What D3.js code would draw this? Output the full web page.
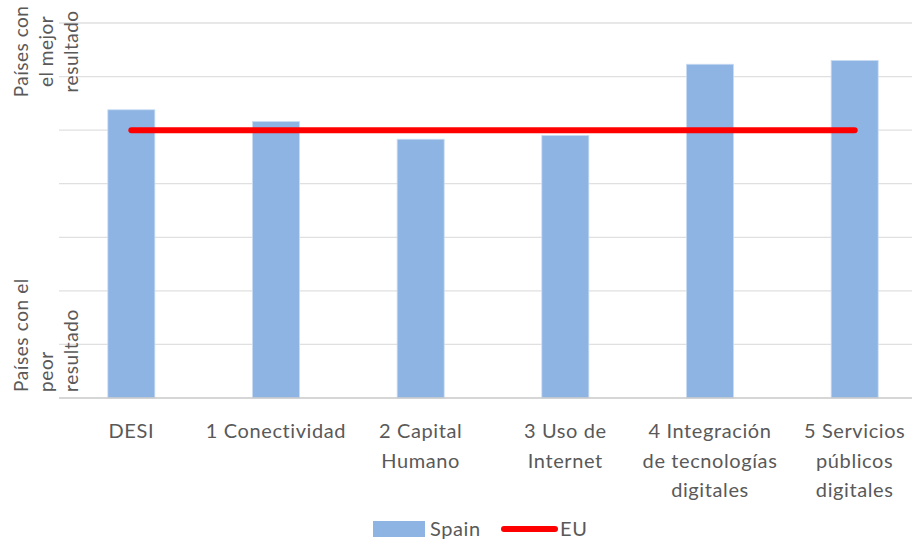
<!DOCTYPE html>
<html lang="es">
    <head>
        <meta charset="utf-8">
        <title>DESI Spain vs EU</title>
        <script src="https://d3js.org/d3.v7.min.js"></script>
        <style>
            body { margin: 0; background: #fff; }
            svg#chart text { font-family: Lato, "Open Sans", sans-serif; fill: #595959; }
        </style>
    </head>
    <body>
        <svg id="chart" width="916" height="542"></svg>
        <script type="text/javascript">
            // categories (line breaks as in the original labels)
            let categories = ["DESI", "1 Conectividad", "2 Capital Humano", "3 Uso de Internet",
                              "4 Integración de tecnologías digitales", "5 Servicios públicos digitales"];
            let category_lines = [["DESI"], ["1 Conectividad"], ["2 Capital", "Humano"], ["3 Uso de", "Internet"],
                                  ["4 Integración", "de tecnologías", "digitales"], ["5 Servicios", "públicos", "digitales"]];
            let spain_values = [5.38, 5.16, 4.83, 4.90, 6.23, 6.30];
            let eu_values = [5.0, 5.0, 5.0, 5.0, 5.0, 5.0];
            let y_ticks = [0, 1, 2, 3, 4, 5, 6, 7];
            let top_label = ["Países con", "el  mejor", "resultado"];
            let bottom_label = ["Países con el", "peor", "resultado"];
            let series_names = ["Spain", "EU"];

            var svg = d3.select('#chart');

            let x = d3.scaleBand().domain(categories).range([59, 927])
                .paddingInner(0.675).paddingOuter(0.3375);
            let y = d3.scaleLinear().domain([0, 7]).range([398, 23]);

            // gridlines
            svg.append("g").attr("class", "grid")
                .selectAll("line").data(y_ticks.slice(1)).enter()
                .append("line")
                .attr("x1", 59).attr("x2", 912)
                .attr("y1", d => y(d)).attr("y2", d => y(d))
                .attr("stroke", "#e0e0e0").attr("stroke-width", 1.3);

            // bars
            svg.append("g").selectAll("rect").data(spain_values).enter()
                .append("rect")
                .attr("x", (d, i) => x(categories[i]))
                .attr("y", d => y(d))
                .attr("width", x.bandwidth())
                .attr("height", d => y(0) - y(d))
                .attr("fill", "#8eb4e3")
                .attr("stroke", "#c9dbf2").attr("stroke-width", 0.8);

            // axis line
            svg.append("line")
                .attr("x1", 59).attr("x2", 912)
                .attr("y1", y(0)).attr("y2", y(0))
                .attr("stroke", "#c8c8c8").attr("stroke-width", 1.5);

            // EU line
            let line = d3.line()
                .x((d, i) => x(categories[i]) + x.bandwidth() / 2)
                .y(d => y(d));
            svg.append("path").datum(eu_values)
                .attr("d", line)
                .attr("fill", "none").attr("stroke", "#ff0000")
                .attr("stroke-width", 6).attr("stroke-linecap", "round");

            // category labels
            let xlab = svg.append("g").selectAll("text").data(category_lines).enter()
                .append("text")
                .attr("text-anchor", "middle")
                .attr("font-size", 20)
                .attr("letter-spacing", 0.6)
                .attr("transform", (d, i) => "translate(" + (x(categories[i]) + x.bandwidth() / 2) + ",438)");
            xlab.selectAll("tspan").data(d => d).enter()
                .append("tspan")
                .attr("x", 0).attr("y", (d, j) => j * 29.5)
                .text(d => d);

            // y side labels (rotated)
            let tl = svg.append("text")
                .attr("text-anchor", "middle").attr("font-size", 19).attr("letter-spacing", 0.5)
                .attr("transform", "translate(28," + y(6.47) + ") rotate(-90)");
            tl.selectAll("tspan").data(top_label).enter()
                .append("tspan").attr("x", 0).attr("y", (d, j) => j * 25).text(d => d);

            let bl = svg.append("text")
                .attr("text-anchor", "start").attr("font-size", 19).attr("letter-spacing", 0.6)
                .attr("transform", "translate(28,392) rotate(-90)");
            bl.selectAll("tspan").data(bottom_label).enter()
                .append("tspan").attr("x", 0).attr("y", (d, j) => j * 25).text(d => d);

            // legend
            let legend = svg.append("g").attr("id", "legend");
            legend.append("rect")
                .attr("x", 373).attr("y", 521).attr("width", 52).attr("height", 16)
                .attr("fill", "#8eb4e3");
            legend.append("text").attr("x", 430).attr("y", 536)
                .attr("font-size", 20).attr("letter-spacing", 0.6).text(series_names[0]);
            legend.append("line")
                .attr("x1", 504).attr("x2", 555).attr("y1", 529).attr("y2", 529)
                .attr("stroke", "#ff0000").attr("stroke-width", 6).attr("stroke-linecap", "round");
            legend.append("text").attr("x", 560).attr("y", 536)
                .attr("font-size", 20).attr("letter-spacing", 0.6).text(series_names[1]);
        </script>
    </body>
</html>
